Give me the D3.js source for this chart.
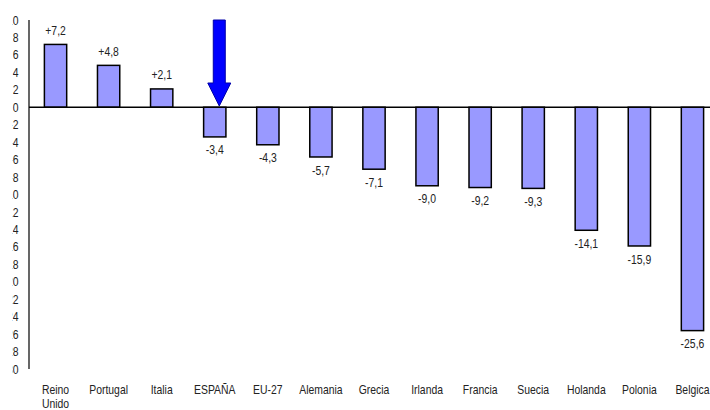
<html>
<head>
<meta charset="utf-8">
<script src="https://d3js.org/d3.v7.min.js"></script>
<style>
  body { margin: 0; background: #fff; }
  text { font-family: "Liberation Sans", Arial, sans-serif; font-size: 13px; fill: #222; }
</style>
</head>
<body>
<script>
var countries = ["Reino Unido", "Portugal", "Italia", "ESPAÑA", "EU-27", "Alemania", "Grecia",
                 "Irlanda", "Francia", "Suecia", "Holanda", "Polonia", "Belgica"];
var values = [7.2, 4.8, 2.1, -3.4, -4.3, -5.7, -7.1, -9.0, -9.2, -9.3, -14.1, -15.9, -25.6];
var yTicks = [10, 8, 6, 4, 2, 0, -2, -4, -6, -8, -10, -12, -14, -16, -18, -20, -22, -24, -26, -28, -30];
var highlight = "ESPAÑA";

var width = 710, height = 410;
var narrow = 0.8; // the original uses a condensed face
var svg = d3.select("body").append("svg")
    .attr("width", width)
    .attr("height", height);

var x = d3.scaleBand()
    .domain(countries)
    .range([29, 719])
    .paddingInner(0.58)
    .paddingOuter(0.29);

var y = d3.scaleLinear()
    .domain([-30, 10])
    .range([369, 20]);

var fmt = function(v) {
    var s = Math.abs(v).toFixed(1).replace(".", ",");
    return (v > 0 ? "+" : "-") + s;
};

function place(px, py) {
    return "translate(" + px + "," + py + ") scale(" + narrow + ",1)";
}

// y labels are cut off on the left side in the original
svg.append("clipPath").attr("id", "yclip")
  .append("rect").attr("x", 12.5).attr("y", 0).attr("width", 40).attr("height", height);

svg.append("g")
    .attr("clip-path", "url(#yclip)")
    .selectAll("text")
    .data(yTicks)
    .enter().append("text")
      .attr("transform", function(d) { return place(18.5, y(d)); })
      .attr("dy", "0.35em")
      .attr("text-anchor", "end")
      .text(function(d) { return d; });

svg.append("line")
    .attr("x1", 29).attr("x2", 29)
    .attr("y1", y(10)).attr("y2", y(-30))
    .attr("stroke", "#000").attr("stroke-width", 1.2);

// bars
svg.append("g").selectAll("rect")
    .data(values)
    .enter().append("rect")
      .attr("x", function(d, i) { return x(countries[i]); })
      .attr("y", function(d) { return y(Math.max(0, d)); })
      .attr("width", x.bandwidth())
      .attr("height", function(d) { return Math.abs(y(d) - y(0)); })
      .attr("fill", "#9999ff")
      .attr("stroke", "#000")
      .attr("stroke-width", 1.5);

// zero line
svg.append("line")
    .attr("x1", 29).attr("x2", width)
    .attr("y1", y(0)).attr("y2", y(0))
    .attr("stroke", "#000").attr("stroke-width", 1.5);

// value labels
svg.append("g").selectAll("text")
    .data(values)
    .enter().append("text")
      .attr("transform", function(d, i) {
          return place(x(countries[i]) + x.bandwidth() / 2, d > 0 ? y(d) - 14 : y(d) + 13);
      })
      .attr("dy", "0.35em")
      .attr("text-anchor", "middle")
      .text(fmt);

// category labels
svg.append("g").selectAll("g")
    .data(countries)
    .enter().append("g")
    .each(function(d) {
        var words = d === "Reino Unido" ? ["Reino", "Unido"] : [d];
        var cx = x(d) + x.bandwidth() / 2;
        var g = d3.select(this);
        words.forEach(function(w, k) {
            g.append("text")
              .attr("transform", place(cx, 389 + k * 14))
              .attr("dy", "0.35em")
              .attr("text-anchor", "middle")
              .text(w);
        });
    });

// arrow pointing at ESPAÑA
var ax = x(highlight) + x.bandwidth() / 2 + 4.5;
var arrowTop = 20, headY = 83, tipY = 106, sw = 6, hw = 11.5;
svg.append("path")
    .attr("d", "M" + (ax - sw) + "," + arrowTop + "L" + (ax + sw) + "," + arrowTop +
               "L" + (ax + sw) + "," + headY + "L" + (ax + hw) + "," + headY +
               "L" + ax + "," + tipY + "L" + (ax - hw) + "," + headY +
               "L" + (ax - sw) + "," + headY + "Z")
    .attr("fill", "#0000ff")
    .attr("stroke", "#0000aa")
    .attr("stroke-width", 1);
</script>
</body>
</html>
